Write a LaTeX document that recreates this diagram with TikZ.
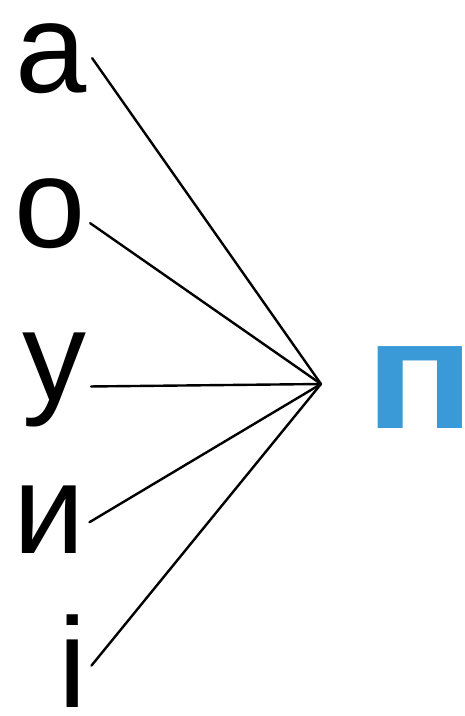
\documentclass[tikz,border=0pt]{standalone}
\usepackage{fontspec}
\setmainfont{Liberation Sans}
\usepackage{xcolor}
\usetikzlibrary{positioning,calc}
\definecolor{letterblue}{HTML}{3A9AD8}

\begin{document}
\begin{tikzpicture}[
        x=1pt,y=-1pt,
        vowel/.style={inner sep=0pt,outer sep=5pt,anchor=base west,font=\fontsize{128}{128}\selectfont},
        cons/.style={inner sep=0pt,anchor=base west,text=letterblue,font=\fontsize{165}{165}\selectfont\bfseries},
        spoke/.style={line width=2.4pt,line cap=round},
    ]
    \useasboundingbox (0,0) rectangle (464,716);

    % === LEFT: vowels ===
    \node[vowel] (va) at (11,92) {а};
    \node[vowel] (vo) at (9,247) {о};
    \node[vowel] (vu) at (17,400) {у};
    \node[vowel] (vy) at (8,553) {и};
    \node[vowel] (vi) at (53,707) {і};

    \coordinate (hub) at (321,384);
    \draw[spoke] (va.east) -- (hub);
    \draw[spoke] ([yshift=-10pt]vo.east) -- (hub);
    \draw[spoke] ([yshift=-7pt]vu.east) -- (hub);
    \draw[spoke] ([yshift=-3pt]vy.east) -- (hub);
    \draw[spoke] ([yshift=-5pt]vi.east) -- (hub);

    % === RIGHT: consonant ===
    \node[cons] (cp) at (365,428) {\scalebox{1.1}[0.94]{п}};
\end{tikzpicture}
\end{document}
